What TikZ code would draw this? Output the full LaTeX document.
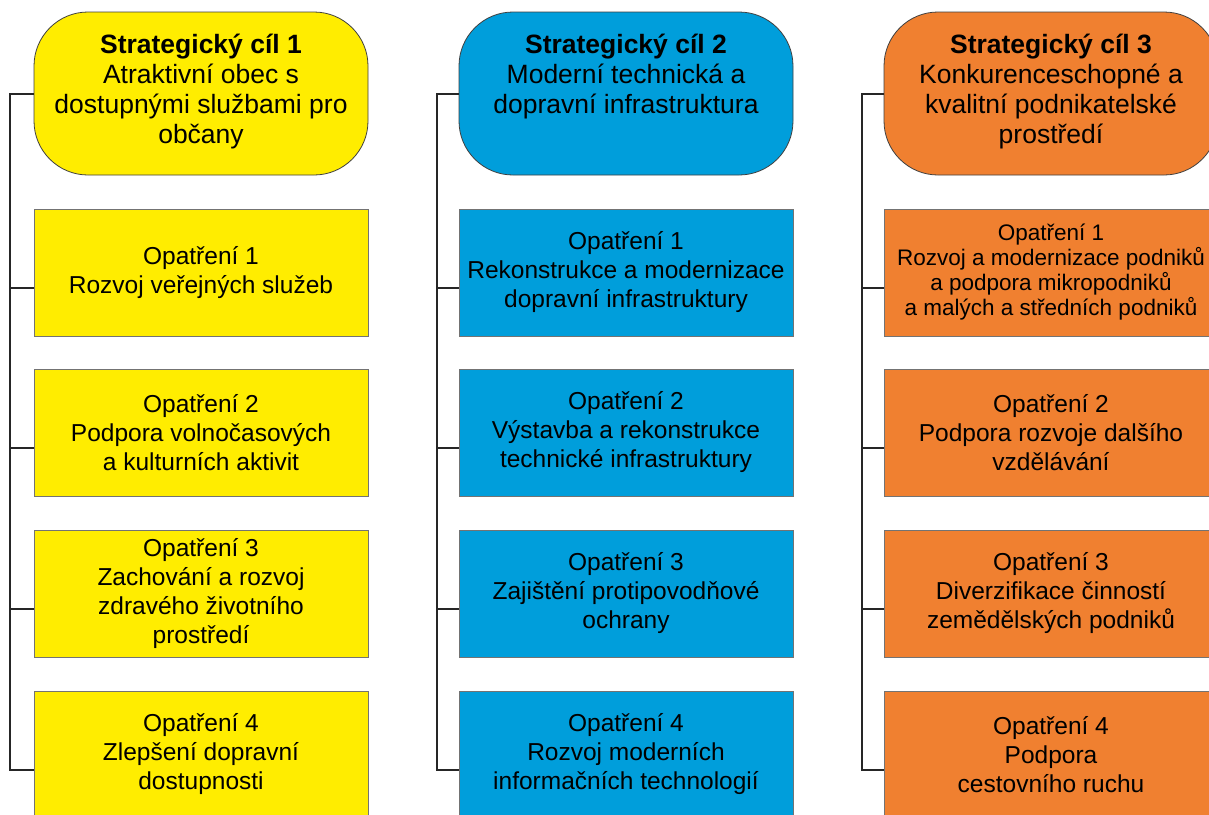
\documentclass[tikz,border=0pt]{standalone}
\usepackage{fontspec}
\setmainfont{Liberation Sans}
\definecolor{cilyellow}{RGB}{255,237,0}
\definecolor{cilblue}{RGB}{0,158,219}
\definecolor{cilorange}{RGB}{240,128,48}
\newcommand{\goaltext}[2]{\parbox[c][118pt][t]{330pt}{\centering\textbf{#1}\\#2}}
\begin{document}
\begin{tikzpicture}[x=1pt,y=-1pt,
    goalbox/.style={draw=black!75, line width=0.8pt, rounded corners=54pt,
        minimum width=334pt, minimum height=163pt, inner sep=0pt,
        font=\fontsize{26.5}{30}\selectfont},
    opbox/.style={draw=black!55, line width=0.8pt, minimum width=334pt,
        minimum height=127pt, inner sep=0pt, align=center,
        font=\fontsize{24.5}{29}\selectfont},
    link/.style={line width=2pt, black!85}]
    \useasboundingbox[fill=white] (0,0) rectangle (1209,814);

    % strategic goals
    \node[goalbox, fill=cilyellow] (g1) at (201,93.5) {\goaltext{Strategický cíl 1}{Atraktivní obec s\\dostupnými službami pro\\občany}};
    \node[goalbox, fill=cilblue] (g2) at (626,93.5) {\goaltext{Strategický cíl 2}{Moderní technická a\\dopravní infrastruktura}};
    \node[goalbox, fill=cilorange] (g3) at (1051,93.5) {\goaltext{Strategický cíl 3}{Konkurenceschopné a\\kvalitní podnikatelské\\prostředí}};

    % measures, column 1
    \node[opbox, fill=cilyellow] (o11) at (201,272.5) {Opatření 1\\Rozvoj veřejných služeb};
    \node[opbox, fill=cilyellow] (o12) at (201,432.5) {Opatření 2\\Podpora volnočasových\\a kulturních aktivit};
    \node[opbox, fill=cilyellow] (o13) at (201,593.5) {Opatření 3\\Zachování a rozvoj\\zdravého životního\\prostředí};
    \node[opbox, fill=cilyellow] (o14) at (201,754.5) {Opatření 4\\Zlepšení dopravní\\dostupnosti};

    % measures, column 2
    \node[opbox, fill=cilblue] (o21) at (626,272.5) {Opatření 1\\Rekonstrukce a modernizace\\dopravní infrastruktury};
    \node[opbox, fill=cilblue] (o22) at (626,432.5) {Opatření 2\\Výstavba a rekonstrukce\\technické infrastruktury};
    \node[opbox, fill=cilblue] (o23) at (626,593.5) {Opatření 3\\Zajištění protipovodňové\\ochrany};
    \node[opbox, fill=cilblue] (o24) at (626,754.5) {Opatření 4\\Rozvoj moderních\\informačních technologií};

    % measures, column 3
    \node[opbox, fill=cilorange, font=\fontsize{22.5}{25}\selectfont] (o31) at (1051,272.5) {Opatření 1\\Rozvoj a modernizace podniků\\a podpora mikropodniků\\a malých a středních podniků};
    \node[opbox, fill=cilorange] (o32) at (1051,432.5) {Opatření 2\\Podpora rozvoje dalšího\\vzdělávání};
    \node[opbox, fill=cilorange] (o33) at (1051,593.5) {Opatření 3\\Diverzifikace činností\\zemědělských podniků};
    \node[opbox, fill=cilorange] (o34) at (1051,754.5) {Opatření 4\\Podpora\\cestovního ruchu};

    % brackets
    \draw[link] (g1.west) -- ++(-24,0) |- ([yshift=-15pt]o14.west);
    \draw[link] (g2.west) -- ++(-22,0) |- ([yshift=-15pt]o24.west);
    \draw[link] (g3.west) -- ++(-22,0) |- ([yshift=-15pt]o34.west);
    \foreach \k in {1,2,3} {
        \draw[link] ([yshift=-15pt]o1\k.west) -- ++(-24,0);
        \draw[link] ([yshift=-15pt]o2\k.west) -- ++(-22,0);
        \draw[link] ([yshift=-15pt]o3\k.west) -- ++(-22,0);
    }
\end{tikzpicture}
\end{document}
